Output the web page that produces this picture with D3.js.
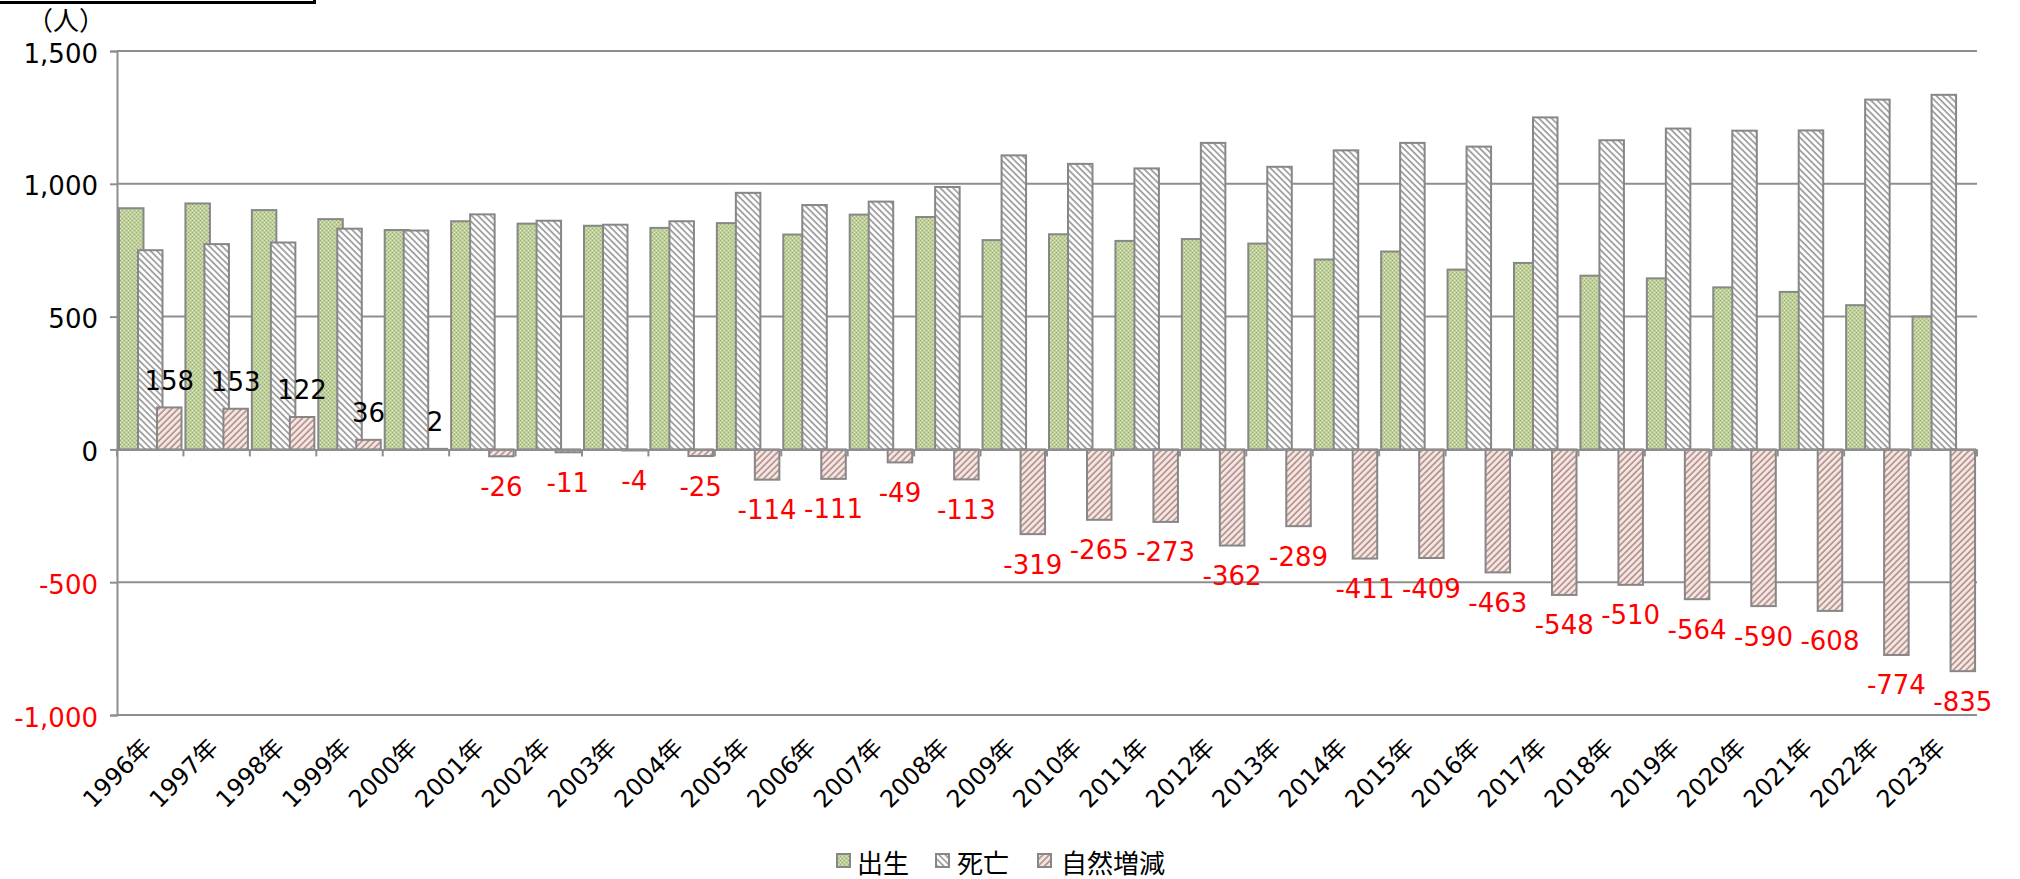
<!DOCTYPE html>
<html><head><meta charset="utf-8">
<script src="https://cdn.jsdelivr.net/npm/d3@7"></script>
<style>
html,body{margin:0;padding:0;background:#fff;}
svg text{font-family:"DejaVu Sans","Noto Sans CJK JP",sans-serif;}
</style></head>
<body><svg id="c" width="2020" height="879"></svg>
<script>
const years = [1996,1997,1998,1999,2000,2001,2002,2003,2004,2005,2006,2007,2008,2009,2010,2011,2012,2013,2014,2015,2016,2017,2018,2019,2020,2021,2022,2023];
const categories = years.map(y => y + "年");
const births = [908,926,901,867,826,859,850,842,834,852,809,884,875,788,810,785,792,775,715,745,677,702,654,644,610,593,543,500];
const deaths = [750,773,779,831,824,885,861,846,859,966,920,933,988,1107,1075,1058,1154,1064,1126,1154,1140,1250,1164,1208,1200,1201,1317,1335];
const change = [158,153,122,36,2,-26,-11,-4,-25,-114,-111,-49,-113,-319,-265,-273,-362,-289,-411,-409,-463,-548,-510,-564,-590,-608,-774,-835];
const yTicks = [-1000,-500,0,500,1000,1500];
const seriesNames = ["出生","死亡","自然増減"];
const unitLabel = "（人）";

const fmt = v => d3.format(",")(v).replace("−","-");

const svg = d3.select("#c");
const x = d3.scaleBand().domain(categories).range([117,1977]).padding(0);
const y = d3.scaleLinear().domain([-1000,1500]).range([715,51]);
const bw = x.bandwidth();
const pad = bw*0.03, w = bw*0.369, step = bw*0.286;

const defs = svg.append("defs");
// births: dotted green
const pb = defs.append("pattern").attr("id","pBirth").attr("patternUnits","userSpaceOnUse").attr("width",4).attr("height",4);
pb.append("rect").attr("width",4).attr("height",4).attr("fill","#bfd09b");
[[0,0],[2,2]].forEach(p=>pb.append("rect").attr("x",p[0]).attr("y",p[1]).attr("width",1).attr("height",1).attr("fill","#98ae74"));
[[2,0],[0,2]].forEach(p=>pb.append("rect").attr("x",p[0]).attr("y",p[1]).attr("width",1).attr("height",1).attr("fill","#dce6c6"));
// deaths: gray back-diagonal
const pd = defs.append("pattern").attr("id","pDeath").attr("patternUnits","userSpaceOnUse").attr("width",4.5).attr("height",4.5).attr("patternTransform","rotate(-45)");
pd.append("rect").attr("width",4.5).attr("height",4.5).attr("fill","#ffffff");
pd.append("line").attr("x1",1).attr("x2",1).attr("y1",0).attr("y2",4.5).attr("stroke","#9a9a9a").attr("stroke-width",1.7);
// change: pink forward-diagonal
const pc = defs.append("pattern").attr("id","pChange").attr("patternUnits","userSpaceOnUse").attr("width",4.5).attr("height",4.5).attr("patternTransform","rotate(45)");
pc.append("rect").attr("width",4.5).attr("height",4.5).attr("fill","#f7e5e0");
pc.append("line").attr("x1",1).attr("x2",1).attr("y1",0).attr("y2",4.5).attr("stroke","#a88888").attr("stroke-width",1.5);

const fills = ["url(#pBirth)","url(#pDeath)","url(#pChange)"];
const gridColor = "#8e8e8e";

// top-left cut-off box
svg.append("rect").attr("x",-5).attr("y",-10).attr("width",319.5).attr("height",12.5)
  .attr("fill","none").attr("stroke","#000").attr("stroke-width",3);

// gridlines
svg.append("g").selectAll("line").data(yTicks.filter(v=>v!==0)).join("line")
  .attr("x1",117).attr("x2",1977).attr("y1",d=>y(d)).attr("y2",d=>y(d))
  .attr("stroke",gridColor).attr("stroke-width",2);

// y axis
const yAxis = svg.append("g").attr("transform","translate(117,0)")
  .call(d3.axisLeft(y).tickValues(yTicks).tickSize(7).tickPadding(12).tickFormat(fmt));
yAxis.select(".domain").attr("stroke",gridColor).attr("stroke-width",2);
yAxis.selectAll(".tick line").attr("stroke",gridColor).attr("stroke-width",2);
yAxis.selectAll(".tick text").attr("font-size",26).attr("font-family","DejaVu Sans, Noto Sans CJK JP")
  .attr("dy",null).attr("y",11).attr("fill",d=>d<0?"#ff0000":"#000");

// bars
const allSeries = [births, deaths, change];
allSeries.forEach((vals,si)=>{
  svg.append("g").selectAll("rect").data(vals).join("rect")
    .attr("x",(d,i)=>x(categories[i])+pad+si*step)
    .attr("width",w)
    .attr("y",d=>y(Math.max(0,d)))
    .attr("height",d=>Math.abs(y(d)-y(0)))
    .attr("fill",fills[si]).attr("stroke","#878787").attr("stroke-width",2);
});

// zero (category) axis with ticks
const xAxis = svg.append("g").attr("transform",`translate(0,${y(0)})`)
  .call(d3.axisBottom(x).tickSize(0).tickFormat(""));
xAxis.select(".domain").attr("stroke",gridColor).attr("stroke-width",2);
const bounds = categories.map(c=>x(c)).concat([x.range()[1]]);
xAxis.append("g").selectAll("line").data(bounds).join("line")
  .attr("x1",d=>d).attr("x2",d=>d).attr("y1",0).attr("y2",7)
  .attr("stroke",gridColor).attr("stroke-width",2);

// category labels
svg.append("g").selectAll("text").data(categories).join("text")
  .attr("transform",c=>`translate(${x(c)+bw/2+3},749) rotate(-45)`)
  .attr("text-anchor","end").attr("font-size",24).attr("fill","#000")
  .text(c=>c);

// data labels on natural change
svg.append("g").selectAll("text").data(change).join("text")
  .attr("x",(d,i)=>x(categories[i])+pad+2*step+w/2)
  .attr("y",d=> d>=0 ? y(d)-27+9.5 : y(d)+30+9.5)
  .attr("text-anchor","middle").attr("font-size",26)
  .attr("fill",d=>d<0?"#ff0000":"#000")
  .text(fmt);

// unit label
svg.append("text").attr("x",66).attr("y",30).attr("text-anchor","middle")
  .attr("font-size",26).attr("font-family","Noto Sans CJK JP").text(unitLabel);

// legend
const legX = [837,936,1038], legTX = [857,957,1061];
seriesNames.forEach((n,i)=>{
  svg.append("rect").attr("x",legX[i]).attr("y",854).attr("width",13).attr("height",13)
    .attr("fill",fills[i]).attr("stroke","#878787").attr("stroke-width",2);
  svg.append("text").attr("x",legTX[i]).attr("y",873).attr("font-size",26)
    .attr("font-family","Noto Sans CJK JP").attr("fill","#000").text(n);
});
</script></body></html>
